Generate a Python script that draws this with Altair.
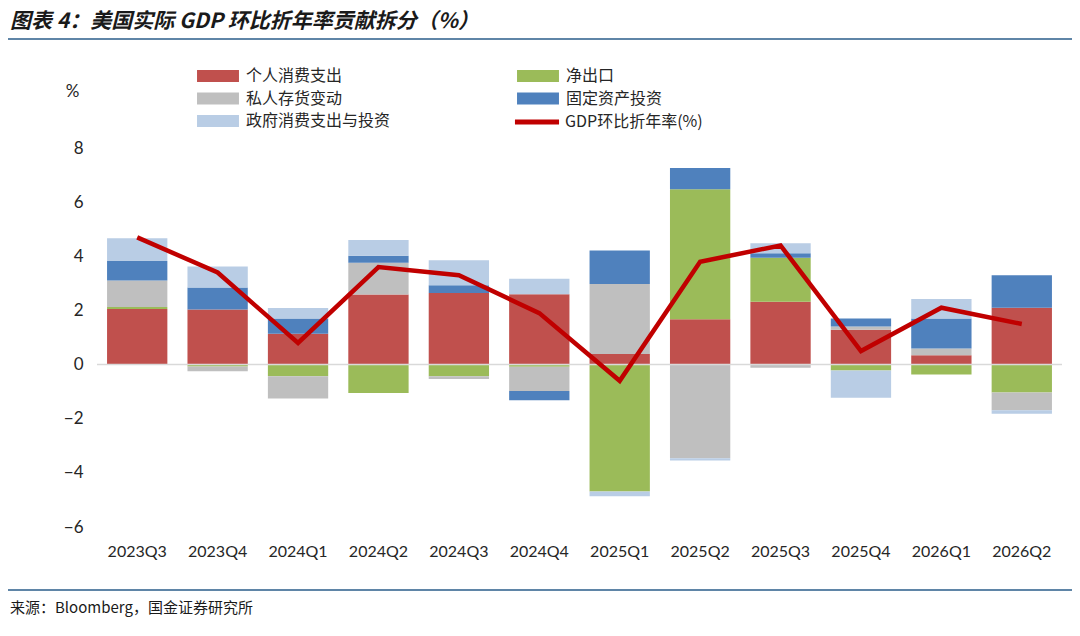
import pandas as pd
import altair as alt

quarters = ["2023Q3", "2023Q4", "2024Q1", "2024Q2", "2024Q3", "2024Q4",
            "2025Q1", "2025Q2", "2025Q3", "2025Q4", "2026Q1", "2026Q2"]
pce = [2.05, 2.03, 1.14, 2.59, 2.64, 2.60, 0.39, 1.67, 2.32, 1.29, 0.34, 2.10]
net_exports = [0.08, -0.07, -0.43, -1.05, -0.43, -0.08, -4.69, 4.81, 1.63, -0.22, -0.37, -1.03]
inventories = [0.98, -0.18, -0.82, 1.17, -0.10, -0.90, 2.59, -3.46, -0.12, 0.12, 0.25, -0.66]
fixed_inv = [0.72, 0.82, 0.56, 0.26, 0.29, -0.34, 1.23, 0.78, 0.16, 0.29, 1.11, 1.20]
government = [0.84, 0.77, 0.39, 0.58, 0.92, 0.57, -0.17, -0.08, 0.37, -1.01, 0.72, -0.13]
gdp = [4.7, 3.4, 0.8, 3.6, 3.3, 1.9, -0.6, 3.8, 4.4, 0.5, 2.1, 1.5]

series = ["个人消费支出", "净出口", "私人存货变动", "固定资产投资", "政府消费支出与投资"]
colors = ["#c0504d", "#9bbb59", "#bfbfbf", "#4f81bd", "#b9cde5"]
line_name = "GDP环比折年率(%)"

rows = []
for i, vals in enumerate([pce, net_exports, inventories, fixed_inv, government]):
    for q, v in zip(quarters, vals):
        rows.append({"q": q, "series": series[i], "order": i, "v": v})
bars_df = pd.DataFrame(rows)
line_df = pd.DataFrame({"q": quarters, "gdp": gdp, "name": line_name})

CJK = "Noto Sans CJK SC"
NUM = "Lato"

x_enc = alt.X("q:N", sort=quarters, title=None,
              scale=alt.Scale(paddingInner=0.25, paddingOuter=0.125),
              axis=alt.Axis(labelAngle=0, labelFont=NUM, labelFontSize=16, labelColor="#262626",
                            domain=False, ticks=False, labelPadding=16))

bars = alt.Chart(bars_df).mark_bar().encode(
    x=x_enc,
    y=alt.Y("v:Q", stack="zero", title="%",
            scale=alt.Scale(domain=[-6, 8]),
            axis=alt.Axis(values=list(range(-6, 9, 2)), grid=False, domain=False, ticks=False,
                          labelFont=NUM, labelFontSize=17, labelColor="#262626", labelPadding=14,
                          titleAngle=0, titleX=-25, titleY=-48, titleFont=NUM, titleFontSize=17,
                          titleFontWeight="normal", titleColor="#262626")),
    fill=alt.Fill("series:N", sort=series,
                  scale=alt.Scale(domain=series, range=colors),
                  legend=alt.Legend(title=None, orient="none", legendX=112, legendY=-81,
                                    direction="horizontal", columns=2, columnPadding=126, rowPadding=5.5,
                                    symbolType="M-2.33,-0.67H2.33V0.67H-2.33Z", symbolSize=324,
                                    symbolStrokeWidth=0, labelFont=CJK, labelFontSize=16,
                                    labelColor="#262626", labelOffset=19)),
    order=alt.Order("order:Q"),
)

zero = alt.Chart(pd.DataFrame({"y": [0]})).mark_rule(color="#d9d9d9", strokeWidth=1.5).encode(y="y:Q")

line = alt.Chart(line_df).mark_line(strokeWidth=4.5, strokeJoin="miter").encode(
    x=alt.X("q:N", sort=quarters),
    y="gdp:Q",
    stroke=alt.Stroke("name:N", scale=alt.Scale(range=["#c00000"]),
                      legend=alt.Legend(title=None, orient="none", legendX=431, legendY=-35,
                                        symbolType="M-2.45,-0.27H2.45V0.27H-2.45Z", symbolSize=324,
                                        symbolFillColor="#c00000", symbolStrokeWidth=0,
                                        labelFont=CJK, labelFontSize=16, labelColor="#262626",
                                        labelOffset=19)),
)

deco = pd.DataFrame({"t": ["图表 4：美国实际 GDP 环比折年率贡献拆分（%）"]})
title = alt.Chart(deco).mark_text(align="left", baseline="middle", font=CJK, fontSize=21,
                                  fontWeight="bold", fontStyle="italic", color="#1a1a1a").encode(
    text="t:N", x=alt.value(-87), y=alt.value(-126))
src = alt.Chart(pd.DataFrame({"t": ["来源：Bloomberg，国金证券研究所"]})).mark_text(
    align="left", baseline="middle", font=CJK, fontSize=15, color="#1a1a1a").encode(
    text="t:N", x=alt.value(-87), y=alt.value(460))
top_rule = alt.Chart(deco).mark_rule(color="#2a5d8a", strokeWidth=1.5).encode(
    x=alt.value(-89), x2=alt.value(975), y=alt.value(-109))
bot_rule = alt.Chart(deco).mark_rule(color="#2a5d8a", strokeWidth=1.5).encode(
    x=alt.value(-89), x2=alt.value(975), y=alt.value(442))

chart = alt.layer(bars, zero, line, title, src, top_rule, bot_rule).resolve_scale(
    fill="independent", stroke="independent"
).properties(
    width=965, height=379,
    autosize=alt.AutoSizeParams(type="none"),
    padding={"left": 89, "top": 140, "right": 10, "bottom": 100},
).configure_view(stroke=None)

chart.save("out.html", embed_options={"renderer": "svg", "actions": False})
